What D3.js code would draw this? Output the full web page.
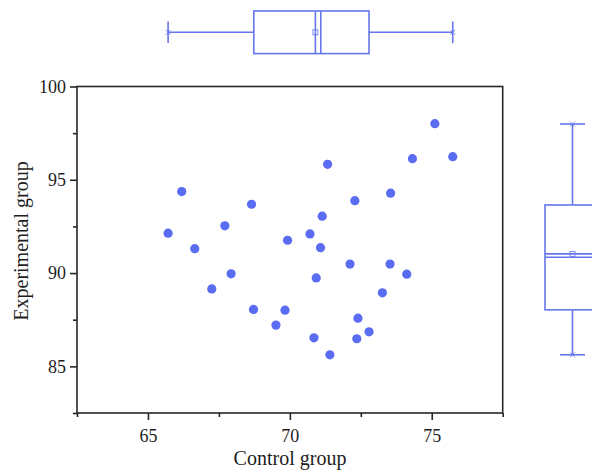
<!DOCTYPE html>
<html><head><meta charset="utf-8">
<script src="https://cdn.jsdelivr.net/npm/d3@7"></script>
<style>html,body{margin:0;padding:0;background:#fff;}svg{display:block;}</style>
</head><body>
<script>
const controlGroup = [66.19,68.65,67.71,65.71,66.65,75.11,75.74,74.32,71.33,73.55,72.29,71.14,70.71,69.92,71.08,67.93,67.25,68.72,69.51,72.12,73.53,74.12,70.93,73.26,69.83,72.40,72.79,70.85,72.36,71.41];
const experimentalGroup = [94.37,93.69,92.53,92.14,91.31,98.01,96.24,96.13,95.83,94.28,93.88,93.05,92.10,91.76,91.36,89.96,89.15,88.05,87.21,90.48,90.48,89.94,89.74,88.94,88.01,87.58,86.85,86.53,86.48,85.62];
const xTicks = [65, 70, 75];
const xMinorTicks = [62.5, 67.5, 72.5, 77.5];
const yTicks = [85, 90, 95, 100];
const yMinorTicks = [82.5, 87.5, 92.5, 97.5];
const xLabel = "Control group";
const yLabel = "Experimental group";
// box stats: [min, q1, mean, median, q3, max]
const xBoxStats = [65.71, 68.73, 70.90, 71.09, 72.79, 75.74];
const yBoxStats = [85.62, 88.03, 91.03, 90.85, 93.65, 97.99];

const W = 592, H = 472;
const m = {l: 77, r: 502.7, t: 86.5, b: 413};
const ptColor = "#5a6cf2", boxColor = "#6676ec", axisColor = "#262626";
const font = "'Liberation Serif', 'Times New Roman', serif";

const svg = d3.select("body").append("svg").attr("width", W).attr("height", H);
const x = d3.scaleLinear().domain([62.5, 77.5]).range([m.l, m.r]);
const y = d3.scaleLinear().domain([82.5, 100]).range([m.b, m.t]);

// frame
svg.append("rect").attr("x", m.l).attr("y", m.t).attr("width", m.r - m.l).attr("height", m.b - m.t)
  .attr("fill", "none").attr("stroke", axisColor).attr("stroke-width", 1.6);

// x axis
const gx = svg.append("g").attr("transform", `translate(0,${m.b})`)
  .call(d3.axisBottom(x).tickValues(xTicks).tickSize(7).tickPadding(9).tickFormat(d3.format("d")));
const gxm = svg.append("g").attr("transform", `translate(0,${m.b})`)
  .call(d3.axisBottom(x).tickValues(xMinorTicks).tickSize(4).tickFormat(""));
// y axis
const gy = svg.append("g").attr("transform", `translate(${m.l},0)`)
  .call(d3.axisLeft(y).tickValues(yTicks).tickSize(7).tickPadding(4).tickFormat(d3.format("d")));
const gym = svg.append("g").attr("transform", `translate(${m.l},0)`)
  .call(d3.axisLeft(y).tickValues(yMinorTicks).tickSize(4).tickFormat(""));
[gx, gxm, gy, gym].forEach(g => {
  g.select(".domain").remove();
  g.selectAll("line").attr("stroke", axisColor).attr("stroke-width", 1.6);
  g.selectAll("text").attr("font-family", font).attr("font-size", 18).attr("fill", "#1e1e1e");
});

svg.append("text").attr("x", 290).attr("y", 465).attr("text-anchor", "middle")
  .attr("font-family", font).attr("font-size", 20).attr("fill", "#1e1e1e").text(xLabel);
svg.append("text").attr("transform", "translate(28,241) rotate(-90)").attr("text-anchor", "middle")
  .attr("font-family", font).attr("font-size", 20).attr("fill", "#1e1e1e").text(yLabel);

// points
svg.append("g").selectAll("circle").data(controlGroup.map((c, i) => [c, experimentalGroup[i]]))
  .join("circle").attr("cx", d => x(d[0])).attr("cy", d => y(d[1])).attr("r", 4.6).attr("fill", ptColor);

// top box plot (horizontal)
const tb = svg.append("g").attr("fill", "none").attr("stroke", boxColor).attr("stroke-width", 1.6);
const tc = 32.3, th = 21.3, tcap = 10.8;
const [xmin, xq1, xmean, xmed, xq3, xmax] = xBoxStats;
tb.append("line").attr("x1", x(xmin)).attr("x2", x(xq1)).attr("y1", tc).attr("y2", tc);
tb.append("line").attr("x1", x(xq3)).attr("x2", x(xmax)).attr("y1", tc).attr("y2", tc);
[xmin, xmax].forEach(v => {
  tb.append("line").attr("x1", x(v)).attr("x2", x(v)).attr("y1", tc - tcap).attr("y2", tc + tcap);
  tb.append("path").attr("d", `M${x(v)-2.5},${tc-2.5}L${x(v)+2.5},${tc+2.5}M${x(v)-2.5},${tc+2.5}L${x(v)+2.5},${tc-2.5}`).attr("stroke-width", 0.8);
});
tb.append("rect").attr("x", x(xq1)).attr("y", tc - th).attr("width", x(xq3) - x(xq1)).attr("height", 2 * th);
[xmean, xmed].forEach(v => tb.append("line").attr("x1", x(v)).attr("x2", x(v)).attr("y1", tc - th).attr("y2", tc + th));
tb.append("rect").attr("x", x(xmean) - 2.5).attr("y", tc - 2.5).attr("width", 5).attr("height", 5).attr("stroke-width", 0.8);

// right box plot (vertical)
const rb = svg.append("g").attr("fill", "none").attr("stroke", boxColor).attr("stroke-width", 1.6);
const rc = 572.5, rw = 27.5, rcap = 12.5;
const [ymin, yq1, ymean, ymed, yq3, ymax] = yBoxStats;
rb.append("line").attr("x1", rc).attr("x2", rc).attr("y1", y(ymin)).attr("y2", y(yq1));
rb.append("line").attr("x1", rc).attr("x2", rc).attr("y1", y(yq3)).attr("y2", y(ymax));
[ymin, ymax].forEach(v => {
  rb.append("line").attr("x1", rc - rcap).attr("x2", rc + rcap).attr("y1", y(v)).attr("y2", y(v));
  rb.append("path").attr("d", `M${rc-2.5},${y(v)-2.5}L${rc+2.5},${y(v)+2.5}M${rc-2.5},${y(v)+2.5}L${rc+2.5},${y(v)-2.5}`).attr("stroke-width", 0.8);
});
rb.append("rect").attr("x", rc - rw).attr("y", y(yq3)).attr("width", 2 * rw).attr("height", y(yq1) - y(yq3));
[ymean, ymed].forEach(v => rb.append("line").attr("x1", rc - rw).attr("x2", rc + rw).attr("y1", y(v)).attr("y2", y(v)));
rb.append("rect").attr("x", rc - 2.5).attr("y", y(ymean) - 2.5).attr("width", 5).attr("height", 5).attr("stroke-width", 0.8);
</script>
</body></html>
